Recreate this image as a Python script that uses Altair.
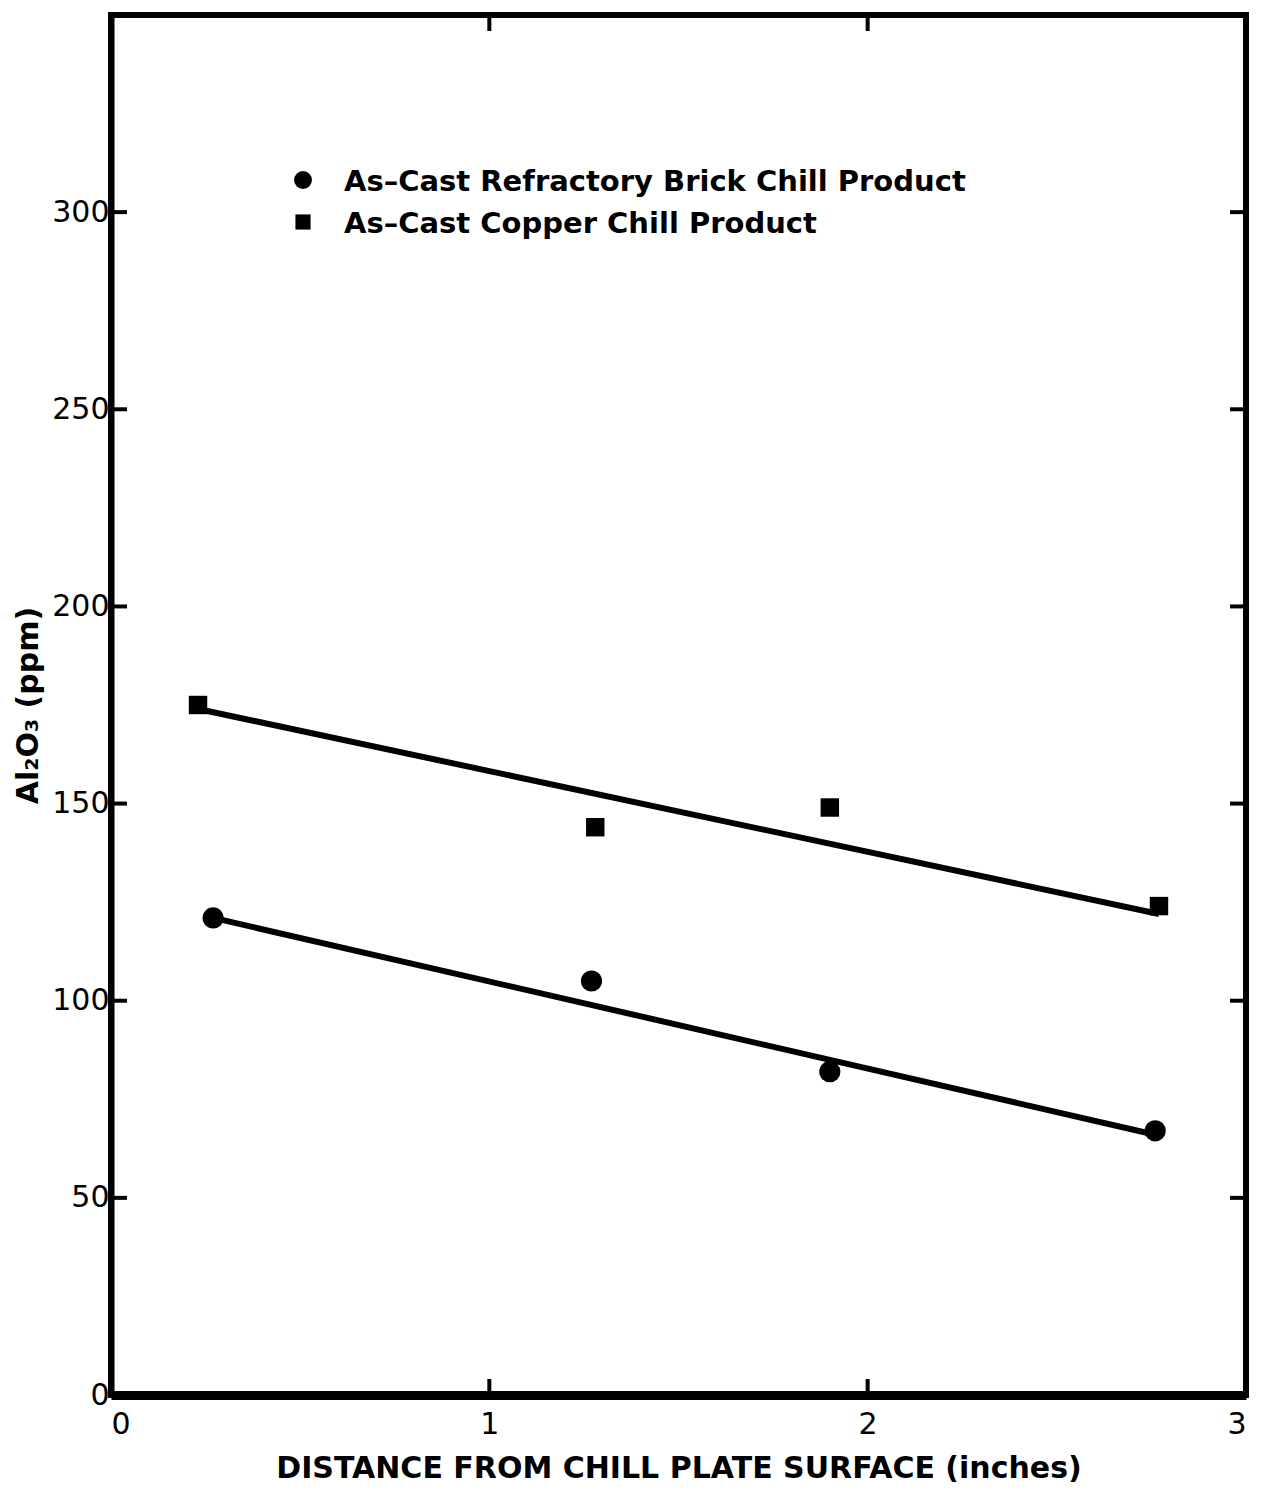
import altair as alt
import pandas as pd

# --- data ---
brick_x = [0.27, 1.27, 1.90, 2.76]
brick_y = [121, 105, 82, 67]
copper_x = [0.23, 1.28, 1.90, 2.77]
copper_y = [175, 144, 149, 124]

brick_fit_x = [0.27, 2.76]
brick_fit_y = [121, 66]
copper_fit_x = [0.23, 2.77]
copper_fit_y = [174, 122]

y_ticks = [0, 50, 100, 150, 200, 250, 300]
x_ticks = [0, 1, 2, 3]
y_inner_ticks = [50, 100, 150, 200, 250, 300]
x_inner_ticks = [1, 2]

legend_labels = ["As\u2013Cast  Refractory  Brick  Chill  Product",
                 "As\u2013Cast  Copper Chill  Product"]

W, H = 1135, 1380
FONT = "DejaVu Sans"

pts = pd.DataFrame(
    [{"x": x, "y": y, "s": "brick"} for x, y in zip(brick_x, brick_y)]
    + [{"x": x, "y": y, "s": "copper"} for x, y in zip(copper_x, copper_y)]
)
fits = pd.DataFrame(
    [{"x": x, "y": y, "s": "brick"} for x, y in zip(brick_fit_x, brick_fit_y)]
    + [{"x": x, "y": y, "s": "copper"} for x, y in zip(copper_fit_x, copper_fit_y)]
)

xs = alt.Scale(domain=[0, 3], nice=False)
ys = alt.Scale(domain=[0, 350], nice=False)

xax = alt.Axis(values=x_ticks, format="d", tickSize=0, labelPadding=14,
               labelFontSize=30, labelFont=FONT, labelColor="black",
               title="DISTANCE FROM CHILL PLATE SURFACE (inches)",
               titleFont=FONT, titleFontSize=30, titleFontWeight="bold",
               titlePadding=14, titleColor="black",
               domainColor="black", domainWidth=9, grid=False)
yax = alt.Axis(values=y_ticks, format="d", tickSize=0, labelPadding=2,
               labelFontSize=30, labelFont=FONT, labelColor="black",
               title="Al\u2082O\u2083 (ppm)", titleFont=FONT, titleFontSize=30,
               titleFontWeight="bold", titlePadding=8, titleColor="black",
               domainColor="black", domainWidth=6, grid=False)

lines = alt.Chart(fits).mark_line(color="black", strokeWidth=6).encode(
    x=alt.X("x:Q", scale=xs, axis=xax),
    y=alt.Y("y:Q", scale=ys, axis=yax),
    detail="s:N",
)

circles = alt.Chart(pts).transform_filter(alt.datum.s == "brick").mark_point(
    shape="circle", filled=True, color="black", size=450, opacity=1
).encode(x=alt.X("x:Q", scale=xs), y=alt.Y("y:Q", scale=ys))

squares = alt.Chart(pts).transform_filter(alt.datum.s == "copper").mark_point(
    shape="square", filled=True, color="black", size=340, opacity=1
).encode(x=alt.X("x:Q", scale=xs), y=alt.Y("y:Q", scale=ys))

ydf = pd.DataFrame({"v": y_inner_ticks})
xdf = pd.DataFrame({"v": x_inner_ticks})
TL = 16
left_ticks = alt.Chart(ydf).mark_rule(color="black", strokeWidth=4).encode(
    y=alt.Y("v:Q", scale=ys), x=alt.value(0), x2=alt.value(TL))
right_ticks = alt.Chart(ydf).mark_rule(color="black", strokeWidth=4).encode(
    y=alt.Y("v:Q", scale=ys), x=alt.value(W - TL), x2=alt.value(W))
bottom_ticks = alt.Chart(xdf).mark_rule(color="black", strokeWidth=4).encode(
    x=alt.X("v:Q", scale=xs), y=alt.value(H - TL), y2=alt.value(H))
top_ticks = alt.Chart(xdf).mark_rule(color="black", strokeWidth=4).encode(
    x=alt.X("v:Q", scale=xs), y=alt.value(0), y2=alt.value(TL))

leg = pd.DataFrame({"label": legend_labels, "i": [0, 1]})
leg_circle = alt.Chart(leg).transform_filter(alt.datum.i == 0).mark_point(
    shape="circle", filled=True, color="black", size=320, opacity=1
).encode(x=alt.value(192), y=alt.value(165))
leg_square = alt.Chart(leg).transform_filter(alt.datum.i == 1).mark_point(
    shape="square", filled=True, color="black", size=230, opacity=1
).encode(x=alt.value(192), y=alt.value(207))
text_style = dict(align="left", baseline="middle", font=FONT, fontSize=29,
                  fontWeight="bold", color="black")
leg_text1 = alt.Chart(leg).transform_filter(alt.datum.i == 0).mark_text(
    **text_style).encode(x=alt.value(233), y=alt.value(167), text="label:N")
leg_text2 = alt.Chart(leg).transform_filter(alt.datum.i == 1).mark_text(
    **text_style).encode(x=alt.value(233), y=alt.value(209), text="label:N")

chart = alt.layer(
    lines, circles, squares, left_ticks, right_ticks, bottom_ticks, top_ticks,
    leg_circle, leg_square, leg_text1, leg_text2
).properties(
    width=W, height=H, background="white"
).configure_view(stroke="black", strokeWidth=6)

chart.save("out.html", embed_options={"renderer": "svg", "actions": False})
